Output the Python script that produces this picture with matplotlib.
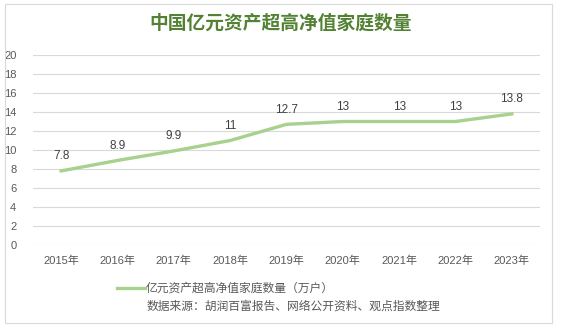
import matplotlib.pyplot as plt
from matplotlib.patches import Rectangle

plt.rcParams['font.family'] = ['Liberation Sans', 'Noto Sans CJK SC', 'DejaVu Sans']

years = ['2015年', '2016年', '2017年', '2018年', '2019年', '2020年', '2021年', '2022年', '2023年']
values = [7.8, 8.9, 9.9, 11, 12.7, 13, 13, 13, 13.8]
labels = ['7.8', '8.9', '9.9', '11', '12.7', '13', '13', '13', '13.8']

fig = plt.figure(figsize=(5.61, 3.26), dpi=100)
fig.patches.append(Rectangle((5/561, 1-323/326), 547/561, 319/326, transform=fig.transFigure,
                             fill=False, edgecolor='#D9D9D9', linewidth=0.8))
ax = fig.add_axes([33/561, 1-245/326, 507/561, 190/326])

x = range(len(years))
ax.plot(x, values, color='#A9D18E', linewidth=2.4, label='亿元资产超高净值家庭数量（万户）')
for i, v in enumerate(values):
    ax.text(i, v + 0.9, labels[i], ha='center', va='bottom', fontsize=8.5, color='#404040')

ax.set_xlim(-0.5, len(years) - 0.5)
ax.set_ylim(0, 20)
ax.set_yticks(range(0, 21, 2))
ax.set_xticks(list(x))
ax.set_xticklabels(years)
ax.tick_params(axis='both', length=0, labelsize=8, labelcolor='#595959')
ax.tick_params(axis='y', pad=12)
ax.tick_params(axis='x', pad=8)
ax.grid(axis='y', color='#D9D9D9', linewidth=0.8)
ax.set_axisbelow(True)
for s in ax.spines.values():
    s.set_visible(False)

fig.text(0.5, 1-24/326, '中国亿元资产超高净值家庭数量', ha='center', va='center',
         fontsize=13.5, fontweight='bold', color='#548235')

leg = fig.legend(loc='center left', bbox_to_anchor=(117/561, 1-289/326), frameon=False,
                 fontsize=8.5, handlelength=2.4, handletextpad=0.05, borderaxespad=0, borderpad=0)
for t in leg.get_texts():
    t.set_color('#595959')
fig.text(147/561, 1-307/326, '数据来源：胡润百富报告、网络公开资料、观点指数整理', ha='left', va='center',
         fontsize=8.5, color='#595959')

fig.savefig('out.png', dpi=100)
